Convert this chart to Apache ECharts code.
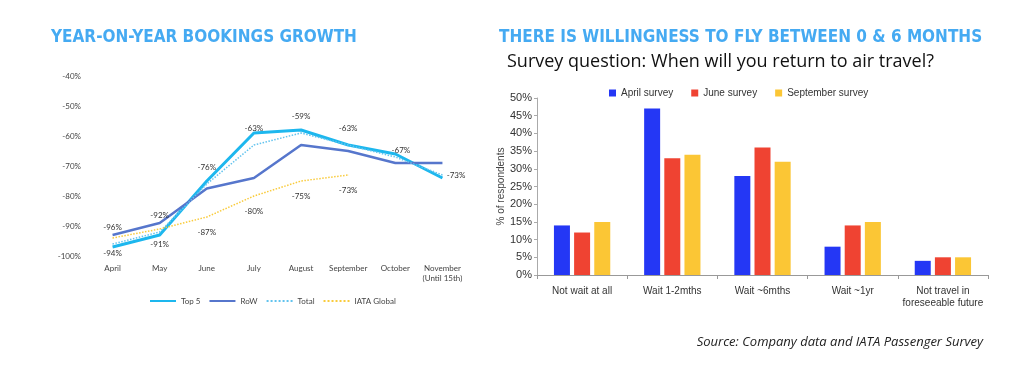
<!DOCTYPE html>
<html>
<head>
<meta charset="utf-8">
<script src="https://cdn.jsdelivr.net/npm/echarts@6/dist/echarts.min.js"></script>
<style>
    html, body { margin: 0; padding: 0; background: #fff; }
    #chart { width: 1031px; height: 377px; }
</style>
</head>
<body>
<div id="chart"></div>
<script>
// left chart: year-on-year bookings growth (%)
var months = ['April', 'May', 'June', 'July', 'August', 'September', 'October', 'November\n(Until 15th)'];
var top5 = [-97, -93, -75, -59, -58, -63, -66, -74];
var row = [-93, -89, -77.5, -74, -63, -65, -69, -69];
var total = [-96, -92, -76, -63, -59, -63, -67, -73];
var iataGlobal = [-94, -91, -87, -80, -75, -73];

// right chart: survey, % of respondents
var waitCats = ['Not wait at all', 'Wait 1-2mths', 'Wait ~6mths', 'Wait ~1yr', 'Not travel in\nforeseeable future'];
var aprilSurvey = [14, 47, 28, 8, 4];
var juneSurvey = [12, 33, 36, 14, 5];
var septSurvey = [15, 34, 32, 15, 5];

var smallFont = 'Lato, "Open Sans", sans-serif';
var narrowFont = '"Liberation Sans Narrow", "Liberation Sans", Arial, sans-serif';
var titleFont = '"DejaVu Sans Condensed", "DejaVu Sans", sans-serif';

// label tweaks for the total line near the right end
function totalData() {
    return total.map(function (v, i) {
        if (i == 6) return { value: v, label: { position: 'right', distance: 0, offset: [-4, -7] } };
        if (i == 7) return { value: v, label: { position: 'right', distance: 4 } };
        return v;
    });
}

var dom = document.getElementById('chart');
var myChart = echarts.init(dom);
var option = {
    animation: false,
    title: [{
        text: 'YEAR-ON-YEAR BOOKINGS GROWTH',
        left: 46, top: 24,
        textStyle: { color: '#45AAF2', fontSize: 17, fontWeight: 'bold', fontFamily: titleFont }
    }, {
        text: 'THERE IS WILLINGNESS TO FLY BETWEEN 0 & 6 MONTHS',
        left: 494, top: 24,
        textStyle: { color: '#45AAF2', fontSize: 17, fontWeight: 'bold', fontFamily: titleFont }
    }, {
        text: 'Survey question: When will you return to air travel?',
        left: 502, top: 48,
        textStyle: { color: '#111', fontSize: 18, fontWeight: 'normal', fontFamily: '"Open Sans", sans-serif' }
    }],
    graphic: [{
        type: 'text',
        right: 48, top: 336,
        style: {
            text: 'Source: Company data and IATA Passenger Survey',
            fill: '#222', fontSize: 13, fontStyle: 'italic', fontFamily: '"Open Sans", sans-serif'
        }
    }],
    legend: [{
        data: ['Top 5', 'RoW', 'Total', 'IATA Global'],
        left: 144, top: 292,
        itemWidth: 26, itemHeight: 6, itemGap: 8,
        itemStyle: { opacity: 0 },
        textStyle: { fontSize: 8, color: '#444', fontFamily: smallFont }
    }, {
        data: ['April survey', 'June survey', 'September survey'],
        left: 604, top: 83,
        icon: 'rect', itemWidth: 7, itemHeight: 7, itemGap: 18,
        textStyle: { fontSize: 10, color: '#333', fontFamily: narrowFont }
    }],
    grid: [{
        left: 89, top: 76, width: 377, height: 180
    }, {
        left: 537, top: 98, width: 451, height: 177
    }],
    xAxis: [{
        type: 'category', gridIndex: 0, data: months,
        axisLine: { show: false }, axisTick: { show: false },
        axisLabel: { interval: 0, fontSize: 8, color: '#444', fontFamily: smallFont, margin: 7, lineHeight: 10 }
    }, {
        type: 'category', gridIndex: 1, data: waitCats,
        axisLine: { lineStyle: { color: '#999' } },
        axisTick: { show: true, length: 4, lineStyle: { color: '#999' } },
        axisLabel: { interval: 0, fontSize: 10, color: '#333', fontFamily: narrowFont, margin: 10, lineHeight: 12 }
    }],
    yAxis: [{
        type: 'value', gridIndex: 0, min: -100, max: -40, interval: 10,
        splitLine: { show: false }, axisLine: { show: false }, axisTick: { show: false },
        axisLabel: { formatter: '{value}%', fontSize: 8, color: '#444', fontFamily: smallFont, margin: 8 }
    }, {
        type: 'value', gridIndex: 1, min: 0, max: 50, interval: 5,
        name: '% of respondents', nameLocation: 'middle', nameGap: 31, nameRotate: 90,
        nameTextStyle: { fontSize: 10, color: '#444', fontFamily: narrowFont },
        splitLine: { show: false },
        axisLine: { show: true, lineStyle: { color: '#aaa' } },
        axisTick: { show: true, length: 3, lineStyle: { color: '#aaa' } },
        axisLabel: { formatter: '{value}%', fontSize: 11, color: '#333', fontFamily: narrowFont, margin: 5 }
    }],
    series: [{
        name: 'Top 5', type: 'line', xAxisIndex: 0, yAxisIndex: 0,
        data: top5, symbol: 'none', color: '#1DB7EE',
        lineStyle: { width: 3, color: '#1DB7EE' }
    }, {
        name: 'RoW', type: 'line', xAxisIndex: 0, yAxisIndex: 0,
        data: row, symbol: 'none', color: '#5676CC',
        lineStyle: { width: 2.5, color: '#5676CC' }
    }, {
        name: 'Total', type: 'line', xAxisIndex: 0, yAxisIndex: 0,
        data: totalData(), symbol: 'circle', symbolSize: 0.5, showSymbol: true, color: '#62C3EE',
        lineStyle: { width: 1.5, type: 'dotted', color: '#62C3EE' },
        label: {
            show: true, position: 'top', distance: 12,
            formatter: '{c}%', fontSize: 8, color: '#333', fontFamily: smallFont
        }
    }, {
        name: 'IATA Global', type: 'line', xAxisIndex: 0, yAxisIndex: 0,
        data: iataGlobal, symbol: 'circle', symbolSize: 0.5, showSymbol: true, color: '#F9CB3C',
        lineStyle: { width: 1.5, type: 'dotted', color: '#F9CB3C' },
        label: {
            show: true, position: 'bottom', distance: 11,
            formatter: '{c}%', fontSize: 8, color: '#333', fontFamily: smallFont
        }
    }, {
        name: 'April survey', type: 'bar', xAxisIndex: 1, yAxisIndex: 1,
        data: aprilSurvey, color: '#2437F5',
        barWidth: 16, barGap: '26%', barCategoryGap: '38%'
    }, {
        name: 'June survey', type: 'bar', xAxisIndex: 1, yAxisIndex: 1,
        data: juneSurvey, color: '#EF4332',
        barWidth: 16, barGap: '26%'
    }, {
        name: 'September survey', type: 'bar', xAxisIndex: 1, yAxisIndex: 1,
        data: septSurvey, color: '#FBC635',
        barWidth: 16, barGap: '26%'
    }]
};
myChart.setOption(option);
window.onresize = myChart.resize;
</script>
</body>
</html>
